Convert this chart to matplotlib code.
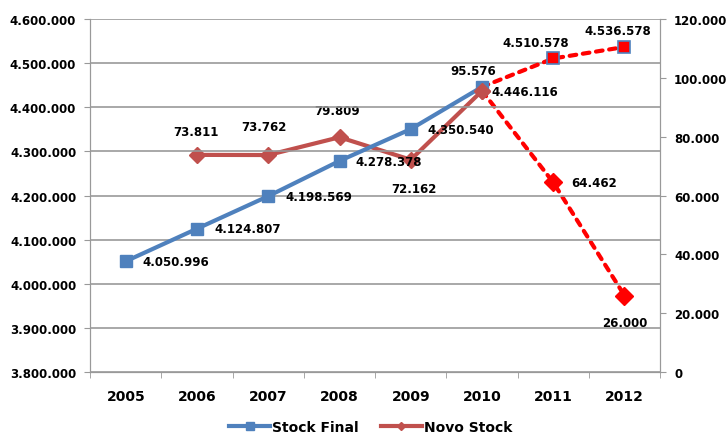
import numpy as np
import matplotlib
matplotlib.use("Agg")
import matplotlib.pyplot as plt
from matplotlib.lines import Line2D

years = ["2005", "2006", "2007", "2008", "2009", "2010", "2011", "2012"]
stock_final = [4050996, 4124807, 4198569, 4278378, 4350540, 4446116, 4510578, 4536578]
novo_stock = [None, 73811, 73762, 79809, 72162, 95576, 64462, 26000]

def fmt(v):
    return f"{v:,.0f}".replace(",", ".")

blue = "#4f81bd"
red = "#c0504d"
proj = "#ff0000"
x = np.arange(len(years))
dash = (0, (1.6, 1.6))

fig = plt.figure(figsize=(7.27, 4.35), dpi=100)
ax = fig.add_axes([0.124, 0.1425, 0.784, 0.8115])
ax2 = ax.twinx()
ax.set_zorder(ax2.get_zorder() + 1)
ax.patch.set_visible(False)
ax2.patch.set_facecolor("#f2f2f2")

# stock final: real up to 2010, projection after
ax.plot(x[5:], stock_final[5:], color=proj, lw=3, ls=dash,
        dash_capstyle="round", zorder=3)
ax.plot(x[:6], stock_final[:6], color=blue, lw=3, marker="s", ms=8,
        mfc=blue, mec=blue, zorder=4)
ax.plot(x[6:], stock_final[6:], ls="none", marker="s", ms=8,
        mfc=proj, mec=blue, mew=1.2, zorder=5)

# novo stock on right axis
nx = x[1:]
nv = novo_stock[1:]
ax2.plot(nx[4:], nv[4:], color=proj, lw=3, ls=dash, dash_capstyle="round", zorder=2)
ax2.plot(nx[:5], nv[:5], color=red, lw=3, marker="D", ms=8, zorder=3)
ax2.plot(nx[5:], nv[5:], ls="none", marker="D", ms=9, mfc=proj, mec=proj, zorder=3)
# 2010 diamond sits on top of the blue square
ax.plot([x[5]], [novo_stock[5]], ls="none", marker="D", ms=8, color=red,
        transform=ax2.transData, zorder=6)

ax.set_xlim(-0.5, len(years) - 0.5)
ax.set_ylim(3800000, 4600000)
lt = np.arange(3800000, 4600001, 100000)
ax.set_yticks(lt)
ax.set_yticklabels([fmt(v) for v in lt])
ax2.set_ylim(0, 120000)
rt = np.arange(0, 120001, 20000)
ax2.set_yticks(rt)
ax2.set_yticklabels([fmt(v) for v in rt])
ax.set_xticks(x)
ax.set_xticklabels(years)
ax.set_xticks(np.arange(-0.5, len(years)), minor=True)

ax.grid(axis="y", color="#999999", lw=1.2)
ax.set_axisbelow(True)
for a in (ax, ax2):
    for s in a.spines.values():
        s.set_color("#999999")
    a.spines["top"].set_visible(False)
    a.tick_params(axis="y", colors="#999999", labelcolor="black", length=4, pad=6)
ax.tick_params(axis="x", which="major", length=0, pad=12)
ax.tick_params(axis="x", which="minor", length=4, color="#999999")
for lab in ax.get_yticklabels() + ax2.get_yticklabels():
    lab.set_fontweight("bold")
    lab.set_fontsize(8.5)
for lab in ax.get_xticklabels():
    lab.set_fontweight("bold")
    lab.set_fontsize(10)

# data labels stock final (offsets in pixels)
sf_off = [(17, 0), (17, 0), (17, 0), (16, -1), (17, 0), (9, -5), (-17, 16), (-7, 16)]
sf_ha = ["left"] * 6 + ["center"] * 2
for i, v in enumerate(stock_final):
    ax.annotate(fmt(v), (x[i], v), xytext=sf_off[i], textcoords="offset pixels",
                ha=sf_ha[i], va="center", fontsize=8.5, fontweight="bold")

ns_off = [None, (-1, 23), (-4, 29), (-2, 27), (3, -29), (-9, 20), (18, 0), (0, -27)]
for i, v in enumerate(novo_stock):
    if v is None:
        continue
    ha = "left" if i == 6 else "center"
    ax2.annotate(fmt(v), (x[i], v), xytext=ns_off[i], textcoords="offset pixels",
                 ha=ha, va="center", fontsize=8.5, fontweight="bold")

handles = [Line2D([], [], color=blue, lw=3, marker="s", ms=6),
           Line2D([], [], color=red, lw=3, marker="D", ms=4)]
fig.legend(handles, ["Stock Final", "Novo Stock"], loc="center",
           bbox_to_anchor=(0.51, 0.016), ncol=2, frameon=False,
           prop={"weight": "bold", "size": 10}, handlelength=2.9,
           handletextpad=0.15, columnspacing=1.65)

fig.savefig("out.png", dpi=100)
